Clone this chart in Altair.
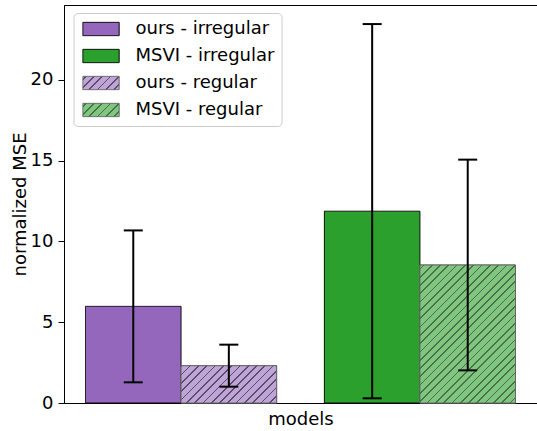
import json

import altair as alt
import pandas as pd

# ---- data -------------------------------------------------------------
models = ["ours", "MSVI", "ours", "MSVI"]
settings = ["irregular", "irregular", "regular", "regular"]
means = [5.98, 11.87, 2.31, 8.54]
errors = [4.70, 11.58, 1.30, 6.52]
positions = [0.0, 2.5, 1.0, 3.5]

# ---- style ------------------------------------------------------------
fills = ["#9467bd", "#2ca02c", "#bfa4d7", "#80c680"]
edges = ["#000000", "#000000", "#666666", "#666666"]
hatch_lines = [None, None, "#5a4b68", "#477047"]
FONT = "DejaVu Sans"

W, H = 473, 398
PAD_L, PAD_T, PAD_B = 64, 5, 28
X_DOM = [-0.725, 4.225]
Y_DOM = [0, 24.63]
BAR_W = 1.0
HATCH_PERIOD = 8.3   # spacing of hatch lines along x+y (px)
HATCH_WIDTH = 1.7    # hatch line thickness along x+y (px)

labels = [f"{m} - {s}" for m, s in zip(models, settings)]
df = pd.DataFrame({
    "label": labels,
    "center": positions,
    "left": [p - BAR_W / 2 for p in positions],
    "right": [p + BAR_W / 2 for p in positions],
    "mean": means,
    "lo": [m - e for m, e in zip(means, errors)],
    "hi": [m + e for m, e in zip(means, errors)],
})

px_x = W / (X_DOM[1] - X_DOM[0])
px_y = H / (Y_DOM[1] - Y_DOM[0])


def hatch_gradient(w, h, fill, line, phase=0.0):
    """Diagonal '//' hatch as a linear gradient over a w x h box."""
    span = w + h
    k = span / (w * w + h * h)
    stops = [{"offset": 0, "color": fill}]
    c = phase % HATCH_PERIOD
    while c - HATCH_WIDTH / 2 < span:
        a = max(0.0, (c - HATCH_WIDTH / 2) / span)
        b = min(1.0, (c + HATCH_WIDTH / 2) / span)
        stops += [{"offset": round(a, 5), "color": fill},
                  {"offset": round(a, 5), "color": line},
                  {"offset": round(b, 5), "color": line},
                  {"offset": round(b, 5), "color": fill}]
        c += HATCH_PERIOD
    stops.append({"offset": 1, "color": fill})
    return {"gradient": "linear", "x1": 0, "y1": 0,
            "x2": round(w * k, 5), "y2": round(h * k, 5), "stops": stops}


x_scale = alt.Scale(domain=X_DOM, nice=False, zero=False)
y_scale = alt.Scale(domain=Y_DOM, nice=False)
x_axis = alt.Axis(title="models", ticks=False, labels=False, grid=False,
                  domainColor="black", titlePadding=7)
y_axis = alt.Axis(title="normalized MSE", values=[0, 5, 10, 15, 20], grid=False,
                  domainColor="black", tickColor="black", tickSize=6,
                  labelPadding=5, titlePadding=1)

# legend swatches: solid for irregular, hatched for regular
SW_W, SW_H = 36.3, 13.3
fill_expr = "'black'"
stroke_expr = "'black'"
for lab, f, e, hl in reversed(list(zip(labels, fills, edges, hatch_lines))):
    val = json.dumps(hatch_gradient(SW_W, SW_H, f, hl, 3.0)) if hl else f"'{f}'"
    fill_expr = f"datum.value === '{lab}' ? {val} : ({fill_expr})"
    stroke_expr = f"datum.value === '{lab}' ? '{e}' : ({stroke_expr})"

legend = alt.Legend(
    title=None, orient="none", legendX=9.5, legendY=8,
    symbolType="M-1,-1H4.46V1H-1Z", symbolSize=177,
    symbolFillColor=alt.ExprRef(fill_expr),
    symbolStrokeColor=alt.ExprRef(stroke_expr),
    symbolStrokeWidth=1, symbolOpacity=1,
    labelFont=FONT, labelFontSize=18, labelColor="black", labelLimit=0,
    labelOffset=37, rowPadding=9, padding=7,
    fillColor="rgba(255,255,255,0.8)", strokeColor="#cccccc", cornerRadius=4,
)

x_enc = alt.X("left:Q", scale=x_scale, axis=x_axis)
y_enc = alt.Y("mean:Q", scale=y_scale, axis=y_axis)

bars = alt.Chart(df).mark_bar(strokeWidth=1, opacity=1).encode(
    x=x_enc,
    x2="right:Q",
    y=y_enc,
    y2=alt.datum(0),
    color=alt.Color("label:N", sort=labels, scale=alt.Scale(range=fills), legend=None),
    stroke=alt.Stroke("label:N", sort=labels, scale=alt.Scale(range=edges), legend=None),
    strokeDash=alt.StrokeDash("label:N",
                              scale=alt.Scale(domain=labels, range=[[1, 0]] * len(labels)),
                              legend=legend),
)

layers = [bars]
for i, (lab, f, e, hl) in enumerate(zip(labels, fills, edges, hatch_lines)):
    if not hl:
        continue
    w = BAR_W * px_x
    h = (means[i] - Y_DOM[0]) * px_y
    x0 = PAD_L + (positions[i] - BAR_W / 2 - X_DOM[0]) * px_x
    y0 = PAD_T + (Y_DOM[1] - means[i]) * px_y
    grad = hatch_gradient(w, h, f, hl, -(x0 + y0))
    layers.append(
        alt.Chart(df).transform_filter(alt.datum.label == lab)
        .mark_bar(fill=grad, stroke=e, strokeWidth=1)
        .encode(x=x_enc, x2="right:Q", y=y_enc, y2=alt.datum(0))
    )

err = alt.Chart(df).mark_rule(color="black", strokeWidth=2).encode(
    x=alt.X("center:Q", scale=x_scale, axis=x_axis),
    y=alt.Y("lo:Q", scale=y_scale, axis=y_axis),
    y2="hi:Q",
)
caps = alt.Chart(df).transform_fold(["lo", "hi"], as_=["end", "val"]).mark_tick(
    orient="horizontal", size=19, thickness=2, color="black", opacity=1
).encode(
    x=alt.X("center:Q", scale=x_scale, axis=x_axis),
    y=alt.Y("val:Q", scale=y_scale, axis=y_axis),
)
layers += [err, caps]

chart = alt.layer(*layers).properties(
    width=W, height=H,
    autosize=alt.AutoSizeParams(type="none"),
    padding={"left": PAD_L, "top": PAD_T, "right": 0, "bottom": PAD_B},
    background="white",
).configure_view(
    stroke="black", strokeWidth=1
).configure_axis(
    labelFont=FONT, titleFont=FONT, labelFontSize=18, titleFontSize=18,
    labelColor="black", titleColor="black", titleFontWeight="normal",
)

chart.save("out.html", embed_options={"renderer": "svg", "actions": False})
